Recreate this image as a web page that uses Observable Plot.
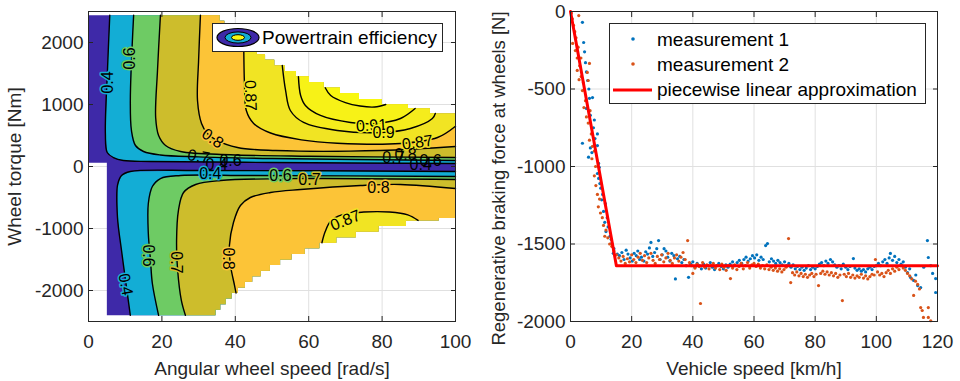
<!DOCTYPE html>
<html><head><meta charset="utf-8">
<script src="https://cdn.jsdelivr.net/npm/d3@7"></script>
<script src="https://cdn.jsdelivr.net/npm/@observablehq/plot@0.6"></script>
<style>
body{margin:0;background:#fff;font-family:"Liberation Sans",Arial,sans-serif;}
#wrap{position:relative;width:960px;height:381px;display:flex;overflow:hidden;}
#wrap svg{display:block;}
.legend{position:absolute;background:#fff;border:1px solid #262626;box-sizing:border-box;font-size:19px;color:#000;}
.legend span{position:absolute;white-space:nowrap;}
</style></head><body>
<div id="wrap">
  <div id="left"></div><div id="right"></div>
  <div class="legend" id="leg1" style="left:212px;top:23px;width:231px;height:29px;">
    <svg style="position:absolute;left:2px;top:3px" width="46" height="21">
      <ellipse cx="23" cy="10.5" rx="21" ry="9" fill="#3e29a8" stroke="#000" stroke-width="1.2"/>
      <ellipse cx="23" cy="10.5" rx="13" ry="5.6" fill="#13add5" stroke="#000" stroke-width="1"/>
      <ellipse cx="23" cy="10.5" rx="6.5" ry="2.8" fill="#f9f810" stroke="#000" stroke-width="1"/>
    </svg>
    <span id="leg1text" style="left:49px;top:0;line-height:27px;"></span>
  </div>
  <div class="legend" id="leg2" style="left:609px;top:23px;width:317px;height:81px;">
    <svg style="position:absolute;left:0;top:0" width="46" height="79">
      <circle cx="23" cy="15" r="1.8" fill="#0072bd"/>
      <circle cx="23" cy="40" r="1.8" fill="#d95319"/>
      <line x1="3" x2="42" y1="66" y2="66" stroke="#ff0000" stroke-width="3"/>
    </svg>
    <span id="lg2a" style="left:47px;top:3px;line-height:25px;"></span>
    <span id="lg2b" style="left:47px;top:28px;line-height:25px;"></span>
    <span id="lg2c" style="left:47px;top:53px;line-height:25px;"></span>
  </div>
</div>
<script>
// ---------- tick values ----------
const xTicksL = [0, 20, 40, 60, 80, 100];
const yTicksL = [-2000, -1000, 0, 1000, 2000];
const xTicksR = [0, 20, 40, 60, 80, 100, 120];
const yTicksR = [-2000, -1500, -1000, -500, 0];

// ---------- efficiency map ----------
const effLevels = [0.4, 0.6, 0.7, 0.8, 0.87, 0.9, 0.91, 0.92];
// band colours: [below 0.4, >=0.4, >=0.6, >=0.7, >=0.8, >=0.87, >=0.9, >=0.91, >=0.92]
const bandColors = ["#3e29a8", "#13add5", "#6ecb64", "#cdbd2c", "#fcc437", "#f1e423", "#f5ec1c", "#f7f217", "#f9f810"];

// operating envelope (stair-stepped) : torque level and speed where each step ends
const upperEnvT   = [2440, 2350, 2260, 2170, 2080, 1990, 1900, 1810, 1720, 1630, 1540, 1450, 1360, 1270, 1180, 1090, 1000, 935, 855];
const upperEnvEnd = [35.7, 37.0, 38.5, 40.1, 41.8, 43.7, 45.8, 48.1, 50.6, 53.4, 56.5, 60.0, 64.0, 68.5, 73.7, 79.8, 87.0, 93.0, 100];
const lowerEnvT   = [-2400, -2310, -2220, -2130, -2040, -1950, -1860, -1770, -1680, -1590, -1500, -1410, -1320, -1230, -1140, -1050, -960, -870, -830];
const lowerEnvEnd = [34.6, 35.9, 37.4, 39.0, 40.7, 42.6, 44.6, 46.9, 49.4, 52.2, 55.3, 58.9, 62.9, 67.5, 72.8, 79.0, 86.5, 95.4, 100];
const lowerEnvStart = 5;
const notchT = 60;

// contour lines [speed rad/s, torque Nm]; null torque = point on the envelope
const c04pos  = [[5.8,2440],[5.2,1597],[4.6,532],[5.1,226],[6.8,145],[9.5,97],[16.9,81],[50.1,65],[100,48]];
const c06pos  = [[12.3,2440],[11.4,1065],[11.7,581],[12.8,339],[15,242],[19.6,185],[30,155],[50.1,129],[100,97]];
const c07pos  = [[19.6,2440],[18.8,1548],[18.3,790],[19.1,500],[21,339],[25.1,242],[38.7,190],[60,165],[100,145]];
const c08pos  = [[30.5,2440],[30,1710],[29.7,1065],[30.8,694],[32.4,532],[34.6,435],[40.6,306],[51,258],[79.6,258],[100,323]];
const c087pos = [[42.3,null],[42.5,1339],[43,903],[45,694],[49.6,540],[58,430],[67.8,375],[85,371],[95.1,468],[100,650]];
const c090pos = [[52.8,null],[53.7,1226],[55,903],[58.6,710],[67.8,581],[79.6,548],[87.7,613],[93.7,774],[94.5,null]];
const c091pos = [[57.2,null],[57.8,1145],[59.1,984],[63.2,823],[71.4,710],[78.2,694],[85,774],[89,null]];
const c092pos = [[64.5,null],[66,1145],[70,1030],[74,975],[78,960],[81,null]];
const c04neg  = [[11.4,-2400],[10.1,-1839],[9,-1355],[7.9,-823],[7.9,-306],[9,-145],[11.4,-81],[30.5,-65],[100,-81]];
const c06neg  = [[19.1,-2400],[17.4,-1887],[16.9,-1516],[16.3,-1081],[16.3,-597],[17.4,-323],[19.6,-194],[25.1,-145],[44.1,-145],[100,-161]];
const c07neg  = [[26.4,-2400],[25.3,-2161],[24.3,-1678],[24,-1194],[24.5,-710],[25.9,-419],[29.2,-290],[36,-226],[57.8,-194],[100,-210]];
const c08neg  = [[40.2,null],[39.8,-1920],[38.7,-1597],[38.4,-1274],[39.5,-903],[41.4,-629],[44.1,-500],[49.6,-419],[57.8,-371],[74.1,-306],[85,-290],[100,-355]];
const c087neg = [[63.6,null],[64.5,-1050],[66,-880],[69,-780],[75,-735],[82,-735],[87,-780],[89.8,null]];

// inline contour labels: [text, speed, torque, rotation, halo band index or null]
const contourLabels = [
  ["0.4", 5.2, 1355, -90, 1], ["0.6", 11.4, 1742, -90, 2], ["0.87", 44.1, 1145, 88, 5],
  ["0.8", 33.8, 452, 35, 4], ["0.7", 30, 161, 10, null], ["0.4", 34.9, 32, 0, null], ["0.6", 38.7, 97, 0, null],
  ["0.91", 77.1, 661, -3, 7], ["0.9", 80.4, 548, 0, 6], ["0.87", 89.6, 387, -8, 5],
  ["0.7", 83.1, 145, 0, null], ["0.8", 86.4, 194, 0, null], ["0.4", 90.5, 32, 0, null], ["0.6", 93.2, 97, 0, null],
  ["0.4", 33.2, -113, 0, 1], ["0.6", 52.3, -145, 0, 2], ["0.7", 60.2, -210, 0, 3], ["0.8", 79, -339, 0, 4],
  ["0.87", 70, -871, -22, 5], ["0.8", 38.1, -1484, 90, 4], ["0.7", 24, -1548, 90, 3],
  ["0.6", 16.3, -1436, 90, 2], ["0.4", 10.1, -1903, 80, 1]
];

// ---------- braking measurements [vehicle speed km/h, force N] ----------
const meas1 = [
 [3.9,-70],[4.3,-200],[4.6,-260],[4.9,-330],[5.2,-390],[5.6,-445],[6.0,-500],[7.2,-555],[6.2,-560],[5.2,-625],[6.5,-670],[7.8,-700],[7.5,-750],[8.8,-790],[8.0,-820],[3.9,-850],[8.8,-865],[6.5,-880],[7.0,-910],[5.9,-940],[9.2,-980],[9.4,-1005],[8.8,-1045],[9.2,-1077],[9.6,-1110],[9.9,-1140],[10.5,-1180],[10.2,-1215],[11.4,-1240],[10.8,-1290],[12.0,-1330],[11.2,-1360],[12.3,-1390],[11.6,-1420],[12.9,-1450],[13.3,-1470],[13.5,-1495],[14.2,-1530],[14.0,-1560],[15.3,-1565],
 [16,-1575],[16.8,-1555],[17.5,-1600],[18.2,-1540],[18.8,-1565],[19.5,-1590],[20.2,-1610],[20.8,-1560],[21.5,-1575],[22,-1545],[22.6,-1600],[23.2,-1585],[24,-1610],[24.6,-1550],[25.2,-1565],[25.8,-1525],[26.3,-1490],[26.9,-1580],[27.5,-1555],[28.2,-1530],[28.8,-1478],[29.3,-1600],[30,-1570],[30.6,-1530],[31.2,-1545],[31.8,-1585],[32.5,-1610],[33.1,-1560],[33.8,-1575],[34.3,-1725],[35,-1595],[35.7,-1580],[36.4,-1620],[37.1,-1600],[37.8,-1640],[38.6,-1715],[39.3,-1630],[40,-1615],[40.7,-1650],[41.4,-1625],[42.1,-1640],[42.8,-1660],[43.5,-1630],[44.2,-1655],[45,-1640],[45.7,-1620],[46.4,-1650],[47.1,-1665],[47.8,-1640],[48.5,-1625],[49.3,-1645],[50,-1660],[50.8,-1635],[51.5,-1650],[52.2,-1630],[53,-1615],[53.7,-1640],[54.5,-1620],[55.2,-1605],[56,-1625],[56.7,-1600],[57.4,-1585],[58.1,-1610],[58.8,-1595],[59.5,-1575],
 [60.2,-1590],[60.9,-1570],[61.6,-1605],[62.3,-1585],[63,-1600],[63.8,-1510],[64.4,-1497],[65,-1615],[65.7,-1595],[66.4,-1610],[67.1,-1625],[67.8,-1605],[68.5,-1620],[69.2,-1635],[70,-1615],[70.7,-1640],[71.4,-1625],[72.1,-1650],[72.8,-1635],[73.5,-1660],[74.2,-1645],[75,-1665],[75.7,-1650],[76.4,-1670],[77.1,-1655],[77.8,-1640],[78.5,-1665],[79.2,-1650],[80,-1660],[80.7,-1645],[81.4,-1630],[82.1,-1620],[82.8,-1640],[83.5,-1610],[84.2,-1625],[85,-1600],[85.7,-1615],[86.4,-1635],[87.1,-1650],[87.8,-1640],[88.5,-1660],[89.2,-1630],[90,-1650],[90.7,-1665],[91.4,-1645],[92.5,-1594],[93,-1655],[93.7,-1670],[94.4,-1660],[95.1,-1675],[95.8,-1665],[96.5,-1680],[97.2,-1660],[97.9,-1650],[98.6,-1665],[99.3,-1645],[100,-1640],[100.7,-1625],[101.4,-1640],[102.1,-1615],[102.8,-1600],[103.5,-1625],[104.2,-1590],[104.6,-1561],[105.3,-1605],[106,-1580],[106.7,-1620],[107.4,-1600],[108.1,-1630],[108.8,-1615],[109.5,-1650],[110.2,-1684],[110.9,-1660],[111.2,-1716],[112.2,-1735],[112.9,-1700],[113.5,-1768],[114.5,-1781],[115.5,-1650],[116.7,-1478],[117,-1587],[117.8,-1640],[118.4,-1690],[119.4,-1723],[119.4,-1813]
];
const meas2 = [
 [0.3,-10],[0.6,-47],[1,-90],[1.4,-130],[0.7,-206],[1.8,-170],[1.6,-252],[2.7,-26],[2.2,-300],[2.5,-230],[2.2,-380],[3,-350],[2.8,-440],[3.4,-300],[3.9,-510],[3.5,-420],[4.2,-460],[4.9,-575],[4.4,-620],[5.5,-393],[5.8,-445],[6.2,-335],[5.2,-680],[5.8,-720],[6.4,-640],[6.8,-790],[6.2,-830],[7.2,-870],[7,-950],[7.8,-900],[8.2,-1000],[8.3,-1123],[7.8,-1060],[8.8,-1180],[9.5,-1210],[9.1,-1260],[9.8,-1300],[10.4,-1330],[10.8,-1380],[11.6,-1410],[11.2,-1450],[12.2,-1460],[12.8,-1500],[13.5,-1515],[14.2,-1545],[15,-1570],[15.8,-1590],
 [16.5,-1610],[17.2,-1580],[17.9,-1625],[18.6,-1595],[19.3,-1615],[20,-1570],[20.7,-1600],[21.4,-1620],[22.1,-1585],[22.8,-1560],[23.5,-1605],[24.2,-1575],[24.9,-1620],[25.6,-1590],[26.3,-1560],[27,-1605],[27.7,-1625],[28.4,-1580],[29.1,-1600],[29.8,-1570],[30.5,-1615],[31.2,-1590],[31.9,-1560],[32.6,-1605],[33.3,-1625],[34,-1590],[34.7,-1570],[35.4,-1610],[36.1,-1585],[36.8,-1555],[37.5,-1600],[38.3,-1478],[38.9,-1620],[39.5,-1640],[40,-1690],[40.7,-1655],[41.4,-1630],[42.1,-1645],[42.5,-1884],[43.2,-1620],[43.9,-1650],[44.6,-1635],[45.3,-1660],[46,-1640],[46.7,-1625],[47.4,-1655],[48.1,-1640],[48.8,-1665],[49.5,-1630],[50.2,-1650],[50.9,-1670],[51.6,-1640],[52.3,-1723],[53,-1655],[53.7,-1635],[54.4,-1665],[55.1,-1645],[55.8,-1625],[56.5,-1660],[57.2,-1640],[57.9,-1620],[58.6,-1655],[59.3,-1635],
 [60,-1625],[60.7,-1645],[61.4,-1630],[62.1,-1655],[62.8,-1640],[63.5,-1660],[64.2,-1635],[64.9,-1665],[65.6,-1650],[66.3,-1670],[67,-1655],[67.7,-1675],[68.4,-1660],[69.1,-1680],[69.8,-1665],[70.5,-1650],[71.3,-1465],[72,-1749],[72.6,-1685],[73.3,-1700],[74,-1680],[74.7,-1705],[75.4,-1690],[76.1,-1710],[76.8,-1695],[77.5,-1715],[78.2,-1700],[78.9,-1690],[79.6,-1710],[80.3,-1695],[81.1,-1768],[81.8,-1690],[82.5,-1675],[83.2,-1695],[83.9,-1680],[84.6,-1700],[85.3,-1685],[86,-1705],[86.7,-1690],[87.4,-1715],[88.1,-1700],[88.9,-1865],[89.5,-1695],[90.2,-1710],[90.9,-1690],[91.6,-1715],[92.3,-1700],[93,-1720],[93.7,-1705],[94.4,-1715],[95.1,-1695],[95.8,-1720],[96.5,-1705],[97.2,-1725],[97.9,-1710],[98.6,-1695],[99.3,-1700],[99.7,-1600],[100.4,-1680],[101.1,-1700],[101.8,-1690],[102.5,-1710],[103.2,-1685],[103.9,-1670],[104.6,-1690],[105.3,-1660],[106,-1675],[106.7,-1650],[107.4,-1665],[108.1,-1640],[108.8,-1655],[109.5,-1670],[110.2,-1690],[110.9,-1705],[111.6,-1725],[112.2,-1832],[112.8,-1740],[113.5,-1760],[114.1,-1790],[114.5,-1910],[115,-1929],[115.4,-1974],[117,-1974],[117,-1910],[117.8,-1995]
];
const pwlSpeed = [0, 15, 120];
const pwlForce = [0, -1640, -1640];

// ---------- texts ----------
const txt = {
  xL: "Angular wheel speed [rad/s]", yL: "Wheel torque [Nm]",
  xR: "Vehicle speed [km/h]", yR: "Regenerative braking force at wheels [N]",
  leg1: "Powertrain efficiency", leg2: ["measurement 1", "measurement 2", "piecewise linear approximation"]
};
document.getElementById("leg1text").textContent = txt.leg1;
["lg2a","lg2b","lg2c"].forEach((id, i) => document.getElementById(id).textContent = txt.leg2[i]);

// ---------- geometry helpers ----------
function stairs(start, levels, ends) {
  const pts = []; let w0 = start;
  levels.forEach((T, i) => { pts.push([w0, T], [ends[i], T]); w0 = ends[i]; });
  return pts;
}
const upperPts = stairs(0, upperEnvT, upperEnvEnd);
const lowerPts = stairs(lowerEnvStart, lowerEnvT, lowerEnvEnd);
function envAt(side, w) {
  const L = side === "pos" ? upperEnvT : lowerEnvT, E = side === "pos" ? upperEnvEnd : lowerEnvEnd;
  for (let i = 0; i < E.length; i++) if (w <= E[i]) return L[i];
  return L[L.length - 1];
}
const resolve = (pts, side) => pts.map(([w, t]) => [w, t == null ? envAt(side, w) : t]);
function region(c, side) {
  const env = side === "pos" ? upperPts : lowerPts;
  const w0 = c[0][0], w1 = c[c.length - 1][0];
  const closure = env.filter(p => p[0] > w0 && (w1 >= 100 || p[0] < w1)).reverse();
  return c.concat(closure);
}
const domainPoly = upperPts.concat(lowerPts.slice().reverse(), [[lowerEnvStart, notchT], [0, notchT]]);

const contourList = [
  [0.4, "pos", c04pos], [0.4, "neg", c04neg], [0.6, "pos", c06pos], [0.6, "neg", c06neg],
  [0.7, "pos", c07pos], [0.7, "neg", c07neg], [0.8, "pos", c08pos], [0.8, "neg", c08neg],
  [0.87, "pos", c087pos], [0.87, "neg", c087neg], [0.9, "pos", c090pos], [0.91, "pos", c091pos], [0.92, "pos", c092pos]
].map(([lv, side, pts]) => ({lv, side, pts: resolve(pts, side)}));

const xy = {x: d => d[0], y: d => d[1]};
const FONT = "'Liberation Sans', Arial, Helvetica, sans-serif";
const AX = "#262626", GRID = "#e0e0e0";

function axes(xt, yt) {
  const fmt = d => String(d), none = () => "";
  return [
    Plot.frame({stroke: AX, strokeWidth: 1}),
    Plot.axisX({anchor: "bottom", ticks: xt, tickSize: 5, dy: -5, tickFormat: none, label: null}),
    Plot.axisX({anchor: "top", ticks: xt, tickSize: 5, dy: 5, tickFormat: none, label: null}),
    Plot.axisY({anchor: "left", ticks: yt, tickSize: 5, dx: 5, tickFormat: none, label: null}),
    Plot.axisY({anchor: "right", ticks: yt, tickSize: 5, dx: -5, tickFormat: none, label: null}),
    Plot.axisX({anchor: "bottom", ticks: xt, tickSize: 0, tickPadding: 13, tickFormat: fmt, label: null, fontSize: 19}),
    Plot.axisY({anchor: "left", ticks: yt, tickSize: 0, tickPadding: 5, tickFormat: fmt, label: null, fontSize: 19})
  ];
}
function axisTitles(xLabel, yLabel, yOffset, yShift, yFont) {
  return [
    Plot.text([xLabel], {text: d => d, frameAnchor: "bottom", dy: 47, textAnchor: "middle", lineAnchor: "middle", fontSize: 19, fill: AX}),
    Plot.text([yLabel], {text: d => d, frameAnchor: "left", dx: -yOffset, dy: yShift, rotate: -90, textAnchor: "middle", lineAnchor: "middle", fontSize: yFont, fill: AX})
  ];
}
const style = {fontFamily: FONT, fontSize: "19px", color: AX, background: "white", overflow: "visible"};

// ---------- left: efficiency map ----------
const fills = [Plot.line(domainPoly, {...xy, fill: bandColors[0], stroke: "none"})];
contourList.forEach(c => {
  fills.push(Plot.line(region(c.pts, c.side), {...xy, fill: bandColors[effLevels.indexOf(c.lv) + 1], stroke: "none"}));
});
const lines = contourList.map(c => Plot.line(c.pts, {...xy, stroke: "#000", strokeWidth: 1.4, curve: "catmull-rom"}));
const labelMarks = [];
contourLabels.forEach(l => {
  const opt = {x: () => l[1], y: () => l[2], text: () => l[0], rotate: l[3], fontSize: 16, fontFamily: FONT};
  if (l[4] != null) labelMarks.push(Plot.text([l], {...opt, fill: bandColors[l[4]], stroke: bandColors[l[4]], strokeWidth: 3}));
  labelMarks.push(Plot.text([l], {...opt, fill: "#000"}));
});

const left = Plot.plot({
  width: 480, height: 381, marginLeft: 88, marginRight: 25, marginTop: 11, marginBottom: 60,
  x: {domain: [0, 100]}, y: {domain: [-2500, 2500]}, style,
  marks: [
    Plot.ruleX(xTicksL.slice(1, -1), {stroke: GRID}),
    Plot.ruleY(yTicksL, {stroke: GRID}),
    ...fills, ...lines, ...labelMarks,
    ...axes(xTicksL, yTicksL),
    ...axisTitles(txt.xL, txt.yL, 74, 0, 19)
  ]
});
document.getElementById("left").appendChild(left);

// ---------- right: braking force ----------
const pwl = pwlSpeed.map((v, i) => [v, pwlForce[i]]);
const right = Plot.plot({
  width: 480, height: 381, marginLeft: 90, marginRight: 23, marginTop: 11, marginBottom: 60,
  x: {domain: [0, 120]}, y: {domain: [-2000, 0]}, style,
  marks: [
    Plot.ruleX(xTicksR.slice(1, -1), {stroke: GRID}),
    Plot.ruleY(yTicksR.slice(1, -1), {stroke: GRID}),
    Plot.dot(meas1, {...xy, r: 1.6, fill: "#0072bd"}),
    Plot.dot(meas2, {...xy, r: 1.6, fill: "#d95319"}),
    Plot.line(pwl, {...xy, stroke: "#ff0000", strokeWidth: 3}),
    ...axes(xTicksR, yTicksR),
    ...axisTitles(txt.xR, txt.yR, 71, 12, 18.5)
  ]
});
document.getElementById("right").appendChild(right);
</script>
</body></html>
